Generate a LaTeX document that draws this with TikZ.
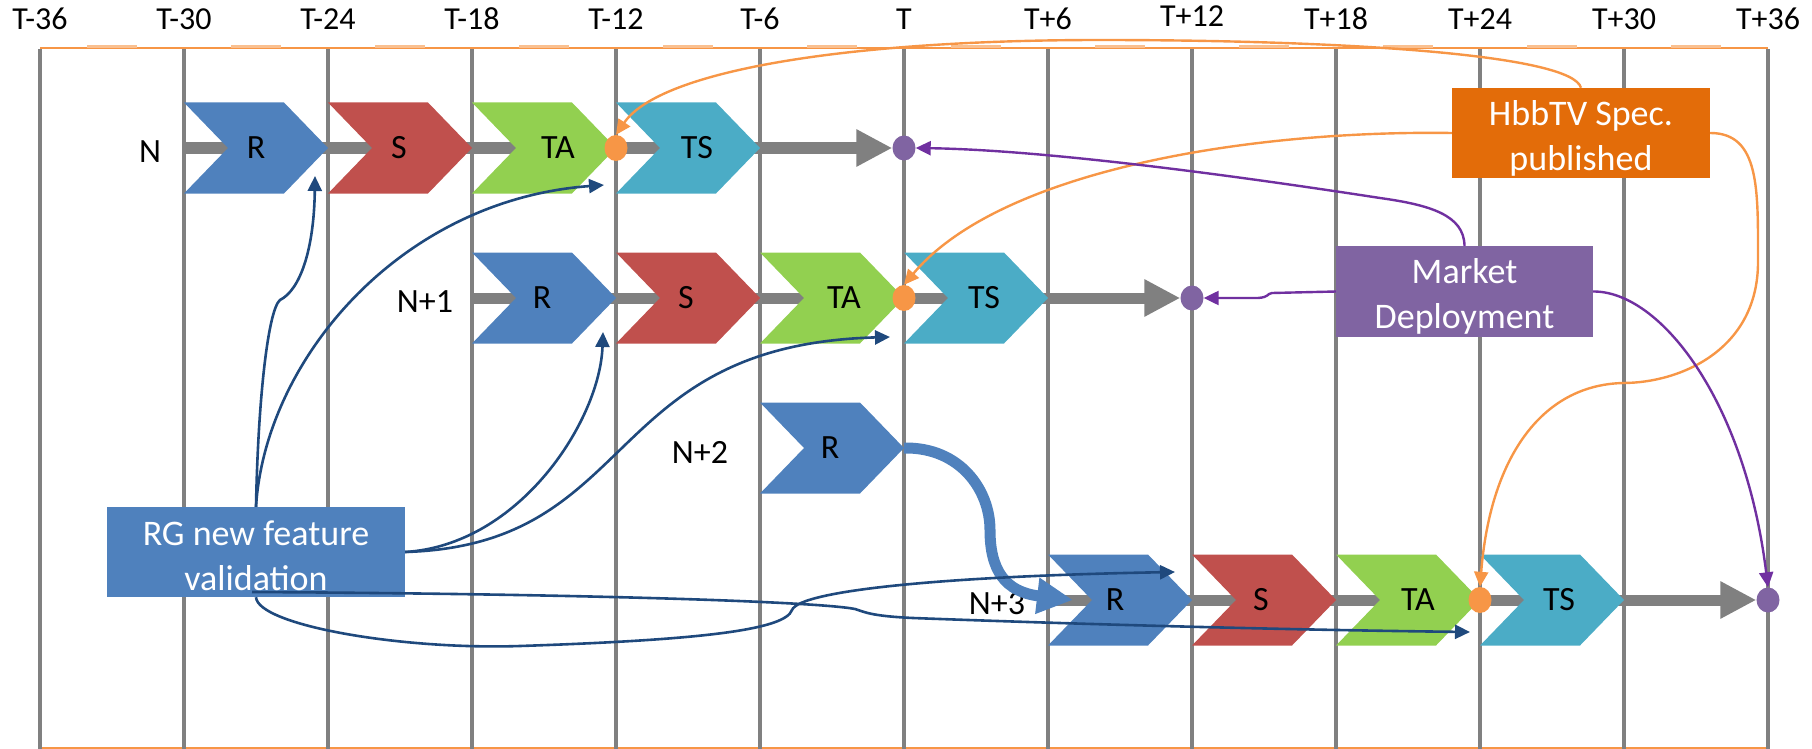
\documentclass[tikz,border=0pt]{standalone}
\usepackage{fontspec}
\setmainfont{Carlito}
\usetikzlibrary{arrows.meta,shapes.geometric,calc}
\definecolor{cR}{HTML}{4F81BD}
\definecolor{cS}{HTML}{C0504D}
\definecolor{cTA}{HTML}{92D050}
\definecolor{cTS}{HTML}{4BACC6}
\definecolor{cOr}{HTML}{F79646}
\definecolor{cOrD}{HTML}{E36C09}
\definecolor{cOrL}{HTML}{FAC090}
\definecolor{cPu}{HTML}{8064A2}
\definecolor{cPuL}{HTML}{7030A0}
\definecolor{cDB}{HTML}{1F497D}
\definecolor{cGr}{HTML}{808080}
% name, left x, centre y, colour, text, text offset
\newcommand{\chev}[6]{%
  \fill[#4] (#2,#3-45.5) -- (#2+100,#3-45.5) -- (#2+144,#3) -- (#2+100,#3+45.5) -- (#2,#3+45.5) -- (#2+44,#3) -- cycle;
  \node[chevtext] (#1) at (#2+#6,#3) {#5};
  \coordinate (#1-tip) at (#2+144,#3);
  \coordinate (#1-in) at (#2+44,#3);
}
\newcommand{\topstrut}{\rule{0pt}{35pt}}
\begin{document}
\begin{tikzpicture}[x=1pt,y=-1pt,
  chevtext/.style={font=\fontsize{34}{40}\selectfont, inner sep=0pt},
  rowlab/.style={font=\fontsize{34}{40}\selectfont, inner sep=0pt},
  collab/.style={font=\fontsize{32}{36}\selectfont, inner sep=0pt},
  infobox/.style={minimum height=90pt, inner sep=0pt, text=white, align=center, font=\fontsize{36}{45}\selectfont},
  pdot/.style={ellipse, fill=cPu, minimum width=23pt, minimum height=25pt, inner sep=0pt},
  odot/.style={ellipse, fill=cOr, minimum width=23pt, minimum height=26pt, inner sep=0pt},
  grayarrow/.style={draw=cGr, line width=11pt, -{Triangle[width=35pt,length=36pt]}},
  thickblue/.style={draw=cR, line width=11pt, -{Triangle[width=34pt,length=36pt]}},
  orconn/.style={draw=cOr, line width=2.4pt, -{Triangle[width=14pt,length=15pt]}},
  puconn/.style={draw=cPuL, line width=2.4pt, -{Triangle[width=14pt,length=15pt]}},
  blconn/.style={draw=cDB, line width=2.6pt, -{Triangle[width=14pt,length=15pt]}},
  gridline/.style={draw=cGr, line width=3.3pt},
  frameline/.style={draw=cOr, line width=2pt},
  framedash/.style={draw=cOrL, line width=2.5pt}
]
\useasboundingbox (0,0) rectangle (1812,749);
% frame
\draw[frameline] (40,48.5) -- (1768,48.5);
\foreach \i in {0,...,11} \draw[framedash] (40+144*\i+47,46.5) -- (40+144*\i+97,46.5);
\draw[frameline] (40,747.5) -- (1768,747.5);
\foreach \i in {0,...,12} \draw[gridline] (40+144*\i,49.5) -- (40+144*\i,749);
% column labels
\foreach \i/\t/\yy in {0/T-36/19,1/T-30/19,2/T-24/19,3/T-18/19,4/T-12/19,5/T-6/19,6/T/19,7/T+6/19,8/T+12/16,9/T+18/19,10/T+24/19,11/T+30/19,12/T+36/19}
  \node[collab] (lab\i) at (40+144*\i,\yy) {\t};
% purple end dots
\node[pdot] (pN) at (904,148) {};
\node[pdot] (pN1) at (1192,298) {};
\node[pdot] (pN3) at (1768,600) {};
% row start coordinates
\coordinate (sN) at (184,148);
\coordinate (sN1) at (472,298);
\coordinate (sN3) at (1048,600);
% gray row arrows
\draw[grayarrow] (sN) -- (pN.west);
\draw[grayarrow] (sN1) -- (pN1.west);
\draw[grayarrow] (sN3) -- (pN3.west);
% chevrons
\chev{RN}{184}{148}{cR}{R}{72}
\chev{SN}{328}{148}{cS}{S}{71}
\chev{TAN}{472}{148}{cTA}{TA}{86}
\chev{TSN}{616}{148}{cTS}{TS}{81}
\chev{RN1}{472}{298}{cR}{R}{70}
\chev{SN1}{616}{298}{cS}{S}{70}
\chev{TAN1}{760}{298}{cTA}{TA}{84}
\chev{TSN1}{904}{298}{cTS}{TS}{80}
\chev{RN2}{760}{448}{cR}{R}{70}
\chev{RN3}{1048}{600}{cR}{R}{67}
\chev{SN3}{1192}{600}{cS}{S}{69}
\chev{TAN3}{1336}{600}{cTA}{TA}{82}
\chev{TSN3}{1480}{600}{cTS}{TS}{79}
% orange milestone dots
\node[odot] (oN) at (616,148) {};
\node[odot] (oN1) at (904,298) {};
\node[odot] (oN3) at (1480,600) {};
% row labels
\node[rowlab] (labN) at (150,152) {N};
\node[rowlab] (labN1) at (425,302) {N+1};
\node[rowlab] (labN2) at (700,452) {N+2};
\node[rowlab] (labN3) at (997,604) {N+3};
% boxes
\node[infobox, fill=cOrD, minimum width=258pt] (hbb) at (1581,133) {\topstrut HbbTV Spec.\\published};
\node[infobox, fill=cPu, minimum width=257pt, minimum height=91pt] (mkt) at (1464.5,291.5) {\topstrut Market\\Deployment};
\node[infobox, fill=cR, minimum width=298pt] (rg) at (256,552) {\rule{0pt}{32pt}RG new feature\\validation};
% thick transition arrow N+2 -> N+3
\coordinate (n3in) at ($(RN3-in)+(-19,0)$);
\draw[thickblue] (RN2-tip) .. controls (960,447) and (990,490) .. (990,530) .. controls (990,570) and (1005,592) .. (n3in);
% free ends of connectors
\coordinate (gN) at (315,176);
\coordinate (hN) at (604,185);
\coordinate (iN1) at (603,332);
\coordinate (jN1) at (890,337);
\coordinate (kS) at (252,592);
\coordinate (kN3) at (1470,632);
\coordinate (lN3) at (1175,572);
% orange connectors
\draw[orconn] (hbb.north) .. controls (1572,55) and (1350,40) .. (1100,40) .. controls (850,40) and (660,70) .. (oN.north);
\draw[orconn] (hbb.west) .. controls (1250,130) and (1000,170) .. (oN1.north);
\draw[orconn] (hbb.east) .. controls (1760,133) and (1758,190) .. (1758,262) .. controls (1758,350) and (1680,383) .. (1623,383) .. controls (1540,385) and (1490,460) .. (oN3.north);
% purple connectors
\draw[puconn] (mkt.north) .. controls (1464,215) and (1430,205) .. (1380,198) .. controls (1250,178) and (1050,150) .. (pN.east);
\draw[puconn] (mkt.west) -- (1272,293) .. controls (1266,294) and (1270,297) .. (1258,298) -- (pN1.east);
\draw[puconn] (mkt.east) .. controls (1660,291) and (1745,400) .. (pN3.north);
% blue connectors
\draw[blconn] (rg.north) .. controls (258,400) and (268,310) .. (280,300) .. controls (300,290) and (314,250) .. (gN);
\draw[blconn] (rg.north) .. controls (265,360) and (400,200) .. (hN);
\draw[blconn] (rg.east) .. controls (520,545) and (600,420) .. (iN1);
\draw[blconn] (rg.east) .. controls (640,545) and (600,345) .. (jN1);
\draw[blconn] (kS) .. controls (600,594) and (820,602) .. (855,609) .. controls (865,612) and (870,616) .. (913,618) .. controls (1100,625) and (1300,630) .. (kN3);
\draw[blconn] (rg.south) .. controls (258,625) and (400,650) .. (520,646) .. controls (700,640) and (785,630) .. (792,610) .. controls (800,590) and (950,576) .. (lN3);
\end{tikzpicture}
\end{document}
